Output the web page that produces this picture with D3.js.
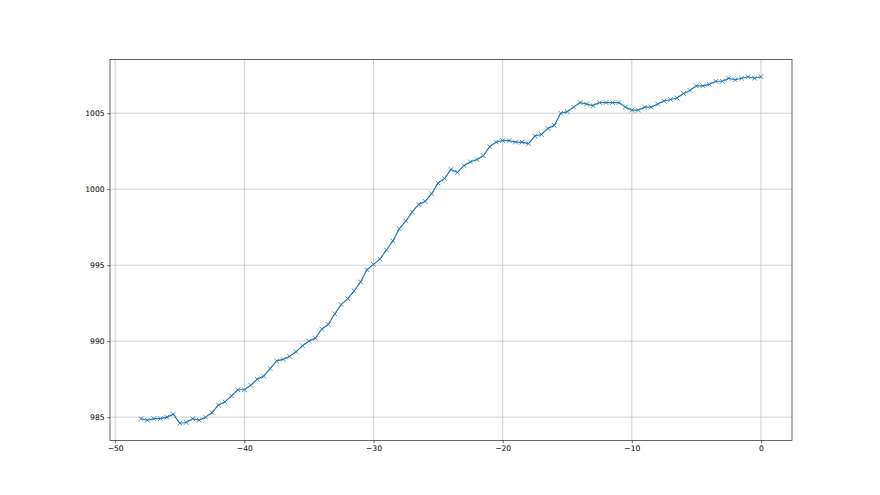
<!DOCTYPE html>
<html>
<head>
<meta charset="utf-8">
<script src="https://cdn.jsdelivr.net/npm/d3@7"></script>
<style>
  body { margin: 0; background: #fff; }
  svg { display: block; }
  .tick text { font-family: "DejaVu Sans", sans-serif; font-size: 7.6px; fill: #000; }
</style>
</head>
<body>
<div id="chart"></div>
<script>
// time offset (x) and reading (y), one point every half step
const xValues = [
    -48, -47.5, -47, -46.5, -46, -45.5, -45, -44.5, -44, -43.5, -43, -42.5,
    -42, -41.5, -41, -40.5, -40, -39.5, -39, -38.5, -38, -37.5, -37, -36.5,
    -36, -35.5, -35, -34.5, -34, -33.5, -33, -32.5, -32, -31.5, -31, -30.5,
    -30, -29.5, -29, -28.5, -28, -27.5, -27, -26.5, -26, -25.5, -25, -24.5,
    -24, -23.5, -23, -22.5, -22, -21.5, -21, -20.5, -20, -19.5, -19, -18.5,
    -18, -17.5, -17, -16.5, -16, -15.5, -15, -14.5, -14, -13.5, -13, -12.5,
    -12, -11.5, -11, -10.5, -10, -9.5, -9, -8.5, -8, -7.5, -7, -6.5,
    -6, -5.5, -5, -4.5, -4, -3.5, -3, -2.5, -2, -1.5, -1, -0.5, 0
];
const yValues = [
    984.9, 984.8, 984.9, 984.9, 985.0, 985.2, 984.6, 984.65, 984.9, 984.8, 985.0, 985.3,
    985.8, 986.0, 986.4, 986.8, 986.8, 987.1, 987.5, 987.7, 988.2, 988.7, 988.8, 989.0,
    989.3, 989.7, 990.0, 990.2, 990.8, 991.1, 991.8, 992.4, 992.8, 993.3, 993.9, 994.7,
    995.05, 995.4, 996.0, 996.6, 997.4, 997.9, 998.5, 999.0, 999.2, 999.7, 1000.4, 1000.7,
    1001.3, 1001.1, 1001.55, 1001.8, 1001.95, 1002.2, 1002.8, 1003.1, 1003.2, 1003.2, 1003.1, 1003.1,
    1003.0, 1003.5, 1003.6, 1004.0, 1004.2, 1005.0, 1005.1, 1005.4, 1005.7, 1005.6, 1005.5, 1005.7,
    1005.7, 1005.7, 1005.7, 1005.4, 1005.2, 1005.2, 1005.4, 1005.4, 1005.6, 1005.8, 1005.9, 1006.0,
    1006.3, 1006.5, 1006.8, 1006.8, 1006.9, 1007.1, 1007.1, 1007.3, 1007.2, 1007.3, 1007.4, 1007.3, 1007.4
];
const xTicks = [-50, -40, -30, -20, -10, 0];
const yTicks = [985, 990, 995, 1000, 1005];

const width = 880;
const height = 495;
const margin = { top: 59.4, right: 88, bottom: 54.45, left: 110 };
const points = xValues.map((x, i) => ({ x, y: yValues[i] }));

// matplotlib-like 5% padding round the data
function padded(extent) {
    const span = extent[1] - extent[0];
    return [extent[0] - span * 0.05, extent[1] + span * 0.05];
}

const x = d3.scaleLinear()
    .domain(padded(d3.extent(xValues)))
    .range([margin.left, width - margin.right]);
const y = d3.scaleLinear()
    .domain(padded(d3.extent(yValues)))
    .range([height - margin.bottom, margin.top]);

const svg = d3.select('#chart')
    .append('svg')
    .attr('width', width)
    .attr('height', height);

// grid
const grid = svg.append('g').attr('stroke', '#b0b0b0').attr('stroke-width', 0.6);
grid.selectAll('.vx').data(xTicks).join('line')
    .attr('x1', (d) => x(d)).attr('x2', (d) => x(d))
    .attr('y1', margin.top).attr('y2', height - margin.bottom);
grid.selectAll('.hy').data(yTicks).join('line')
    .attr('x1', margin.left).attr('x2', width - margin.right)
    .attr('y1', (d) => y(d)).attr('y2', (d) => y(d));

// axes
const xAxis = d3.axisBottom(x).tickValues(xTicks).tickSize(2.7).tickPadding(2.7)
    .tickFormat((d) => d3.format('d')(d).replace('-', '\u2212'));
const yAxis = d3.axisLeft(y).tickValues(yTicks).tickSize(2.7).tickPadding(2.7)
    .tickFormat(d3.format('d'));

svg.append('g')
    .attr('transform', `translate(0,${height - margin.bottom})`)
    .call(xAxis)
    .call((g) => g.select('.domain').remove())
    .call((g) => g.selectAll('.tick line').attr('stroke', '#000').attr('stroke-width', 0.6));

svg.append('g')
    .attr('transform', `translate(${margin.left},0)`)
    .call(yAxis)
    .call((g) => g.select('.domain').remove())
    .call((g) => g.selectAll('.tick line').attr('stroke', '#000').attr('stroke-width', 0.6));

// frame
svg.append('rect')
    .attr('x', margin.left)
    .attr('y', margin.top)
    .attr('width', width - margin.left - margin.right)
    .attr('height', height - margin.top - margin.bottom)
    .attr('fill', 'none')
    .attr('stroke', '#000')
    .attr('stroke-width', 0.6);

// series
const line = d3.line().x((d) => x(d.x)).y((d) => y(d.y));
svg.append('path')
    .datum(points)
    .attr('fill', 'none')
    .attr('stroke', '#1f77b4')
    .attr('stroke-width', 1.15)
    .attr('stroke-linejoin', 'round')
    .attr('d', line);

const m = 2.3;
svg.append('g')
    .attr('stroke', '#1f77b4')
    .attr('stroke-width', 0.8)
    .selectAll('path')
    .data(points)
    .join('path')
    .attr('d', (d) => `M${x(d.x) - m},${y(d.y) - m}L${x(d.x) + m},${y(d.y) + m}M${x(d.x) - m},${y(d.y) + m}L${x(d.x) + m},${y(d.y) - m}`);
</script>
</body>
</html>
